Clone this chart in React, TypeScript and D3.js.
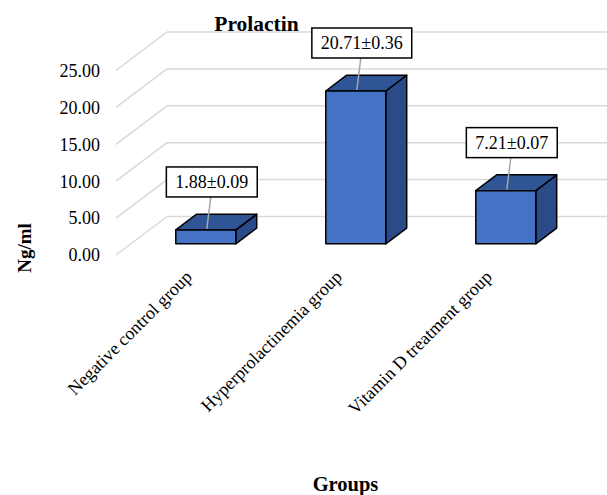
import React from "react";
import * as d3 from "d3";

// Prolactin levels (Ng/ml), mean ± SE per group
const categories = [
  "Negative control group",
  "Hyperprolactinemia group",
  "Vitamin D treatment group",
];
const means = [1.88, 20.71, 7.21];
const errors = [0.09, 0.36, 0.07];
const yTicks = [0, 5, 10, 15, 20, 25];

const W = 607;
const H = 495;
const FONT = "'Liberation Serif', 'Times New Roman', serif";

// oblique projection of the 3D plot box
const DEPTH_DX = 51;
const DEPTH_DY = -38.5;
const Z_FRONT = 0.29;
const Z_BACK = 0.7;

const FRONT_COLOR = "#4472C4";
const TOP_COLOR = "#2F5597";
const SIDE_COLOR = "#2A4A88";
const GRID_COLOR = "#D9D9D9";

function textWidth(s: string, font: string): number {
  if (typeof document === "undefined") return s.length * 9;
  const c = document.createElement("canvas");
  const ctx = c.getContext("2d");
  if (!ctx) return s.length * 9;
  ctx.font = font;
  return ctx.measureText(s).width;
}

export default function App() {
  const x = d3
    .scaleBand<string>()
    .domain(categories)
    .range([116, 566])
    .paddingInner(0.6)
    .paddingOuter(0.3);
  const y = d3.scaleLinear().domain([0, 25]).range([255, 70.5]);
  const step = x.step();
  const bw = x.bandwidth();

  const proj = (px: number, v: number, z: number): [number, number] => [
    px + z * DEPTH_DX,
    y(v) + z * DEPTH_DY,
  ];
  const pts = (arr: [number, number][]) => arr.map((p) => p.join(",")).join(" ");

  const leftFront = 116;
  const backLeft = leftFront + DEPTH_DX;

  return (
    <div style={{ position: "fixed", left: 0, top: 0, width: W, height: H, background: "#fff" }}>
      <svg width={W} height={H} style={{ display: "block" }}>
        <rect width={W} height={H} fill="#fff" />
        {/* gridlines: side wall diagonals + back wall horizontals */}
        <g stroke={GRID_COLOR} strokeWidth={1.5} fill="none">
          {yTicks.map((t) => (
            <g key={t}>
              <line x1={leftFront} y1={y(t)} x2={backLeft} y2={y(t) + DEPTH_DY} />
              <line x1={backLeft} y1={y(t) + DEPTH_DY} x2={W} y2={y(t) + DEPTH_DY} />
            </g>
          ))}
        </g>

        {/* y tick labels */}
        <g fontFamily={FONT} fontSize={18} fill="#000">
          {yTicks.map((t) => (
            <text key={t} x={100} y={y(t)} dy="0.35em" textAnchor="end">
              {d3.format(".2f")(t)}
            </text>
          ))}
        </g>

        {/* 3D bars */}
        {categories.map((c, i) => {
          const v = means[i];
          const x0 = x(c)!;
          const x1 = x0 + bw;
          const fTL = proj(x0, v, Z_FRONT);
          const fBR = proj(x1, 0, Z_FRONT);
          const top = [proj(x0, v, Z_FRONT), proj(x1, v, Z_FRONT), proj(x1, v, Z_BACK), proj(x0, v, Z_BACK)];
          const side = [proj(x1, 0, Z_FRONT), proj(x1, v, Z_FRONT), proj(x1, v, Z_BACK), proj(x1, 0, Z_BACK)];
          return (
            <g key={c} stroke="#000" strokeWidth={1.5} strokeLinejoin="round">
              <polygon points={pts(side)} fill={SIDE_COLOR} />
              <polygon points={pts(top)} fill={TOP_COLOR} />
              <rect x={fTL[0]} y={fTL[1]} width={fBR[0] - fTL[0]} height={fBR[1] - fTL[1]} fill={FRONT_COLOR} />
            </g>
          );
        })}

        {/* data labels with leader lines */}
        {categories.map((c, i) => {
          const v = means[i];
          const label = `${means[i].toFixed(2)}±${errors[i].toFixed(2)}`;
          const [fx, fy] = proj(x(c)! + bw / 2, v, Z_FRONT);
          const tw = textWidth(label, `18px ${FONT}`);
          const bwBox = tw + 18;
          const bh = 30;
          const cx = fx + 6;
          const bottom = fy - 33;
          return (
            <g key={c}>
              <line x1={cx - 1} y1={bottom} x2={fx + 1} y2={fy - 1} stroke="#A6A6A6" strokeWidth={1.5} />
              <rect x={cx - bwBox / 2} y={bottom - bh} width={bwBox} height={bh} fill="#fff" stroke="#000" strokeWidth={1.5} />
              <text x={cx} y={bottom - bh / 2} dy="0.35em" textAnchor="middle" fontFamily={FONT} fontSize={18} fill="#000">
                {label}
              </text>
            </g>
          );
        })}

        {/* category labels */}
        <g fontFamily={FONT} fontSize={18} fill="#000">
          {categories.map((c) => {
            const cx = x(c)! + bw / 2 + 2;
            return (
              <text key={c} transform={`translate(${cx},278) rotate(-45)`} textAnchor="end">
                {c}
              </text>
            );
          })}
        </g>

        {/* titles */}
        <text x={256.5} y={31} textAnchor="middle" fontFamily={FONT} fontSize={21.5} fontWeight="bold">
          Prolactin
        </text>
        <text x={345.5} y={491} textAnchor="middle" fontFamily={FONT} fontSize={20.5} fontWeight="bold">
          Groups
        </text>
        <text transform="translate(31,248) rotate(-90)" textAnchor="middle" fontFamily={FONT} fontSize={19} fontWeight="bold">
          Ng/ml
        </text>
      </svg>
    </div>
  );
}
